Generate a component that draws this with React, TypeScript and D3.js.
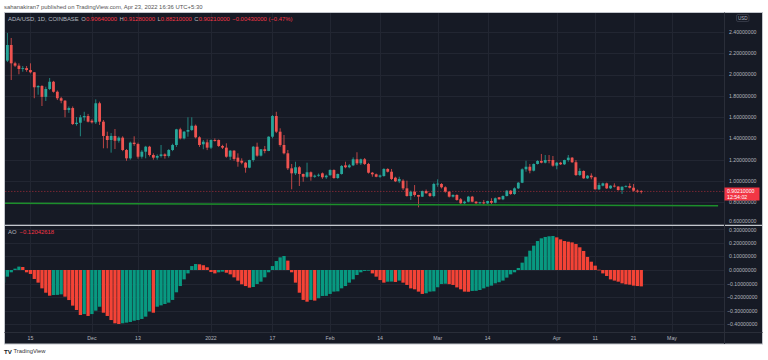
import React from "react";
import * as d3 from "d3";

// ---------- DATA ----------
const START_DATE = "2021-11-08"; // first (partly hidden) daily candle
const opens = [
  2.03, 2.13, 2.277, 2.105, 2.083, 2.052, 2.06, 2.042, 2.021, 1.88, 1.892, 1.79, 1.864, 1.932, 1.838, 1.777, 1.754, 1.667, 1.685, 1.535,
  1.547, 1.598, 1.61, 1.566, 1.551, 1.73, 1.557, 1.423, 1.385, 1.423, 1.378, 1.407, 1.291, 1.213, 1.36, 1.347, 1.228, 1.275, 1.322, 1.244,
  1.219, 1.235, 1.25, 1.235, 1.291, 1.338, 1.485, 1.4, 1.463, 1.479, 1.519, 1.41, 1.345, 1.363, 1.313, 1.385, 1.385, 1.329, 1.313, 1.228,
  1.285, 1.219, 1.19, 1.172, 1.125, 1.197, 1.322, 1.238, 1.298, 1.282, 1.416, 1.61, 1.463, 1.338, 1.26, 1.119, 1.072, 1.129, 1.066, 1.04,
  1.082, 1.04, 1.05, 1.072, 1.035, 1.054, 1.103, 1.028, 1.066, 1.147, 1.129, 1.147, 1.204, 1.166, 1.204, 1.16, 1.078, 1.063, 1.04, 1.047,
  1.113, 1.087, 1.031, 0.997, 1.003, 0.931, 0.859, 0.9, 0.869, 0.853, 0.906, 0.885, 0.859, 0.972, 0.972, 0.941, 0.9, 0.853, 0.869, 0.828,
  0.791, 0.806, 0.853, 0.806, 0.791, 0.8, 0.79, 0.812, 0.796, 0.847, 0.828, 0.859, 0.909, 0.878, 0.931, 0.984, 1.11, 1.134, 1.097, 1.16,
  1.188, 1.172, 1.197, 1.197, 1.144, 1.172, 1.157, 1.197, 1.219, 1.176, 1.056, 1.094, 1.025, 1.05, 1.035, 0.922, 0.956, 0.978, 0.931, 0.956,
  0.948, 0.915, 0.946, 0.953, 0.937, 0.909, 0.9064,
];
const highs = [
  2.15, 2.39, 2.343, 2.12, 2.105, 2.08, 2.08, 2.105, 2.023, 1.9, 1.9, 1.885, 1.967, 1.94, 1.85, 1.79, 1.76, 1.7, 1.7, 1.6,
  1.62, 1.65, 1.63, 1.58, 1.767, 1.745, 1.573, 1.463, 1.45, 1.488, 1.42, 1.42, 1.3, 1.37, 1.42, 1.36, 1.29, 1.33, 1.33, 1.26,
  1.25, 1.338, 1.26, 1.3, 1.35, 1.49, 1.5, 1.47, 1.598, 1.598, 1.53, 1.42, 1.385, 1.39, 1.39, 1.4, 1.39, 1.34, 1.354, 1.29,
  1.29, 1.26, 1.213, 1.18, 1.2, 1.329, 1.36, 1.3, 1.329, 1.42, 1.62, 1.65, 1.495, 1.432, 1.291, 1.16, 1.181, 1.14, 1.07, 1.172,
  1.09, 1.06, 1.07, 1.08, 1.06, 1.11, 1.11, 1.07, 1.15, 1.181, 1.16, 1.222, 1.27, 1.21, 1.216, 1.17, 1.085, 1.07, 1.06, 1.12,
  1.12, 1.113, 1.04, 1.04, 1.016, 1.003, 0.91, 0.962, 0.87, 0.91, 0.92, 0.89, 0.984, 1.016, 0.98, 0.95, 0.905, 0.875, 0.875, 0.84,
  0.815, 0.86, 0.86, 0.81, 0.805, 0.822, 0.815, 0.838, 0.845, 0.85, 0.865, 0.915, 0.915, 0.94, 0.99, 1.119, 1.19, 1.16, 1.165, 1.195,
  1.254, 1.244, 1.244, 1.235, 1.18, 1.18, 1.2, 1.244, 1.225, 1.197, 1.119, 1.1, 1.055, 1.072, 1.04, 0.984, 0.985, 0.985, 0.96, 0.978,
  0.95, 0.95, 0.96, 0.978, 0.972, 0.92, 0.9128,
];
const lows = [
  2.0, 2.117, 1.948, 2.07, 2.002, 2.026, 2.026, 2.011, 1.777, 1.81, 1.704, 1.751, 1.854, 1.83, 1.76, 1.73, 1.598, 1.64, 1.526, 1.52,
  1.42, 1.566, 1.55, 1.54, 1.535, 1.526, 1.307, 1.307, 1.266, 1.3, 1.36, 1.28, 1.19, 1.2, 1.33, 1.21, 1.21, 1.213, 1.23, 1.2,
  1.2, 1.22, 1.21, 1.22, 1.28, 1.32, 1.39, 1.39, 1.416, 1.47, 1.4, 1.32, 1.298, 1.29, 1.3, 1.37, 1.32, 1.3, 1.219, 1.197,
  1.19, 1.134, 1.157, 1.078, 1.12, 1.181, 1.228, 1.23, 1.26, 1.28, 1.4, 1.45, 1.322, 1.25, 1.103, 0.922, 1.056, 0.953, 0.993, 1.03,
  1.003, 1.03, 1.04, 1.02, 1.02, 1.05, 1.02, 1.02, 1.06, 1.12, 1.12, 1.14, 1.15, 1.15, 1.15, 1.07, 1.04, 1.035, 1.03, 1.04,
  1.08, 1.009, 0.99, 0.98, 0.915, 0.853, 0.822, 0.853, 0.753, 0.85, 0.88, 0.85, 0.847, 0.946, 0.93, 0.89, 0.845, 0.845, 0.815, 0.785,
  0.785, 0.8, 0.8, 0.785, 0.787, 0.78, 0.785, 0.784, 0.79, 0.825, 0.82, 0.855, 0.87, 0.87, 0.925, 0.98, 1.087, 1.072, 1.09, 1.155,
  1.166, 1.165, 1.166, 1.134, 1.11, 1.15, 1.15, 1.181, 1.17, 1.047, 1.047, 1.02, 1.02, 1.016, 0.92, 0.915, 0.95, 0.925, 0.925, 0.94,
  0.91, 0.878, 0.94, 0.93, 0.9, 0.89, 0.8821,
];
const closes = [
  2.13, 2.277, 2.105, 2.083, 2.052, 2.06, 2.042, 2.021, 1.88, 1.892, 1.79, 1.864, 1.932, 1.838, 1.777, 1.754, 1.667, 1.685, 1.535, 1.547,
  1.598, 1.61, 1.557, 1.551, 1.73, 1.557, 1.423, 1.385, 1.423, 1.378, 1.407, 1.291, 1.213, 1.36, 1.347, 1.228, 1.275, 1.322, 1.244, 1.219,
  1.235, 1.25, 1.235, 1.291, 1.338, 1.485, 1.4, 1.463, 1.479, 1.519, 1.41, 1.338, 1.369, 1.313, 1.385, 1.376, 1.329, 1.313, 1.228, 1.285,
  1.207, 1.181, 1.172, 1.125, 1.197, 1.322, 1.238, 1.298, 1.282, 1.416, 1.61, 1.463, 1.338, 1.26, 1.119, 1.072, 1.129, 1.066, 1.04, 1.082,
  1.04, 1.05, 1.058, 1.035, 1.05, 1.103, 1.028, 1.066, 1.141, 1.129, 1.147, 1.204, 1.166, 1.204, 1.16, 1.078, 1.063, 1.04, 1.052, 1.113,
  1.087, 1.019, 0.997, 1.019, 0.931, 0.859, 0.9, 0.869, 0.853, 0.906, 0.885, 0.859, 0.972, 0.975, 0.941, 0.9, 0.853, 0.869, 0.822, 0.791,
  0.806, 0.853, 0.806, 0.791, 0.8, 0.79, 0.812, 0.796, 0.838, 0.828, 0.859, 0.909, 0.878, 0.931, 0.984, 1.11, 1.134, 1.097, 1.16, 1.188,
  1.172, 1.197, 1.19, 1.144, 1.172, 1.157, 1.197, 1.219, 1.176, 1.056, 1.094, 1.025, 1.05, 1.035, 0.922, 0.962, 0.978, 0.931, 0.956, 0.948,
  0.915, 0.946, 0.953, 0.937, 0.909, 0.9064, 0.9021,
];
const aoValues = [
  -0.093, -0.049, -0.017, 0.01, 0.025, 0.022, -0.017, -0.029, -0.066, -0.093, -0.135, -0.167, -0.189, -0.184, -0.183, -0.179, -0.196, -0.221, -0.262, -0.294,
  -0.331, -0.324, -0.338, -0.324, -0.299, -0.27, -0.314, -0.338, -0.368, -0.392, -0.397, -0.392, -0.387, -0.382, -0.373, -0.368, -0.36, -0.343, -0.305, -0.314,
  -0.27, -0.26, -0.25, -0.24, -0.22, -0.164, -0.118, -0.069, -0.025, 0.029, 0.044, 0.042, 0.035, 0.02, -0.015, -0.025, -0.017, -0.012, -0.02, -0.032,
  -0.054, -0.078, -0.105, -0.118, -0.13, -0.125, -0.103, -0.086, -0.054, -0.017, 0.029, 0.066, 0.093, 0.103, 0.069, -0.017, -0.093, -0.167, -0.22, -0.233,
  -0.22, -0.225, -0.208, -0.191, -0.19, -0.176, -0.159, -0.157, -0.135, -0.118, -0.093, -0.069, -0.037, -0.017, -0.007, -0.005, -0.025, -0.049, -0.074, -0.093,
  -0.086, -0.085, -0.088, -0.078, -0.093, -0.11, -0.135, -0.142, -0.159, -0.176, -0.171, -0.159, -0.157, -0.127, -0.103, -0.101, -0.104, -0.11, -0.128, -0.142,
  -0.159, -0.16, -0.154, -0.153, -0.147, -0.135, -0.123, -0.115, -0.098, -0.09, -0.078, -0.056, -0.032, -0.017, 0.015, 0.054, 0.098, 0.142, 0.179, 0.213,
  0.233, 0.243, 0.248, 0.25, 0.24, 0.225, 0.213, 0.208, 0.203, 0.191, 0.167, 0.14, 0.096, 0.061, 0.032, 0.002, -0.025, -0.044, -0.069, -0.078,
  -0.086, -0.098, -0.105, -0.108, -0.115, -0.118, -0.12042618,
];
const priceTicks = [0.6, 0.8, 1.0, 1.2, 1.4, 1.6, 1.8, 2.0, 2.2, 2.4];
const aoTicks = [-0.4, -0.3, -0.2, -0.1, 0.0, 0.1, 0.2, 0.3];
const timeTickDates = ["2021-11-15", "2021-12-01", "2021-12-13", "2022-01-01", "2022-01-17", "2022-02-01", "2022-02-14", "2022-03-01", "2022-03-14", "2022-04-01", "2022-04-11", "2022-04-21", "2022-05-01"];
const timeTickLabels = ["15", "Dec", "13", "2022", "17", "Feb", "14", "Mar", "14", "Apr", "11", "21", "May"];
const supportDates = ["2021-11-08", "2022-05-13"];
const supportPrices = [0.79, 0.768];
const lastPrice = 0.9021;
const legendOHLC = ["0.90640000", "0.91280000", "0.88210000", "0.90210000"];
const legendChange = "\u22120.00430000 (\u22120.47%)";
const aoLegendValue = "\u22120.12042618";
const countdown = "12:54:02";

// ---------- STYLE ----------
const BG = "#161a25";
const GRID = "#222632";
const AXIS_TXT = "#b2b5be";
const UP = "#26a69a";
const DOWN = "#ef5350";
const AO_UP = "#089981";
const AO_DOWN = "#f44336";
const FONT = "'Liberation Sans', Arial, sans-serif";

const W = 768, H = 360;
const PANEL = { x0: 4.5, x1: 762.5, y0: 12.5, y1: 344 };
const AXIS_X = 724;
const MAIN = { y0: 13, y1: 225 };
const AO = { y0: 226, y1: 332.5 };

const fmt = (v: number) => (v < 0 ? "\u2212" : "") + Math.abs(v).toFixed(8);

export default function App() {
  const start = new Date(START_DATE + "T00:00:00Z");
  const dates = opens.map((_, i) => d3.utcDay.offset(start, i));
  const x = d3.scaleUtc()
    .domain([new Date("2022-01-01T00:00:00Z"), new Date("2022-05-01T00:00:00Z")])
    .range([211, 672]);
  const y = d3.scaleLinear().domain([0.6, 2.4]).range([223.6, 31.9]);
  const ya = d3.scaleLinear().domain([-0.4, 0.3]).range([324.4, 229.2]);

  const bw = 2.8;
  const aw = 3.3;
  const supportLineGen = d3.line<number>()
    .x((_, i) => x(new Date(supportDates[i] + "T00:00:00Z")))
    .y((p) => y(p));

  return (
    <svg width={W} height={H} style={{ position: "absolute", left: 0, top: 0, background: "#ffffff" }} fontFamily={FONT}>
      <defs>
        <clipPath id="mainClip"><rect x={5} y={MAIN.y0} width={AXIS_X - 5} height={MAIN.y1 - MAIN.y0} /></clipPath>
        <clipPath id="aoClip"><rect x={5} y={AO.y0} width={AXIS_X - 5} height={AO.y1 - AO.y0} /></clipPath>
      </defs>
      <text x={4} y={8.8} fontSize={5.9} fill="#555">
        sahanakiran7 published on TradingView.com, Apr 23, 2022 16:36 UTC+5:30
      </text>
      <rect x={PANEL.x0} y={PANEL.y0} width={PANEL.x1 - PANEL.x0} height={PANEL.y1 - PANEL.y0} fill={BG} stroke="#c3c6cc" strokeWidth={1} />

      {/* grids */}
      {timeTickDates.map((d, i) => {
        const xx = Math.round(x(new Date(d + "T00:00:00Z"))) + 0.5;
        return <line key={"vg" + i} x1={xx} x2={xx} y1={MAIN.y0} y2={AO.y1} stroke={GRID} strokeWidth={1} />;
      })}
      {priceTicks.map((t) => (
        <line key={"pg" + t} x1={5} x2={AXIS_X} y1={Math.round(y(t)) + 0.5} y2={Math.round(y(t)) + 0.5} stroke={GRID} />
      ))}
      {aoTicks.map((t) => (
        <line key={"ag" + t} x1={5} x2={AXIS_X} y1={Math.round(ya(t)) + 0.5} y2={Math.round(ya(t)) + 0.5} stroke={GRID} />
      ))}

      {/* candles */}
      <g clipPath="url(#mainClip)">
        {dates.map((d, i) => {
          const o = opens[i], c = closes[i];
          const col = c >= o ? UP : DOWN;
          const cx = x(d);
          const top = y(Math.max(o, c));
          const bot = y(Math.min(o, c));
          return (
            <g key={"c" + i}>
              <line x1={cx} x2={cx} y1={y(highs[i])} y2={y(lows[i])} stroke={col} strokeWidth={0.9} opacity={0.85} />
              <rect x={cx - bw / 2} y={top} width={bw} height={Math.max(0.8, bot - top)} fill={col} />
            </g>
          );
        })}
        <path d={supportLineGen(supportPrices) || ""} stroke="#1c8f2b" strokeWidth={1.5} fill="none" />
        <line x1={5} x2={AXIS_X} y1={y(lastPrice)} y2={y(lastPrice)} stroke="#f23645" strokeOpacity={0.55} strokeWidth={0.8} strokeDasharray="1.5,1.5" />
      </g>

      {/* AO histogram */}
      <g clipPath="url(#aoClip)">
        {dates.map((d, i) => {
          const v = aoValues[i];
          const prev = i > 0 ? aoValues[i - 1] : -1;
          const col = v >= prev ? AO_UP : AO_DOWN;
          const y0 = ya(0), y1 = ya(v);
          return (
            <rect key={"a" + i} x={x(d) - aw / 2} y={Math.min(y0, y1)} width={aw} height={Math.max(0.6, Math.abs(y1 - y0))} fill={col} />
          );
        })}
      </g>

      {/* separators */}
      <line x1={PANEL.x0} x2={PANEL.x1} y1={225.3} y2={225.3} stroke="#c3c6cc" strokeWidth={1.2} />
      <line x1={PANEL.x0} x2={PANEL.x1} y1={332.5} y2={332.5} stroke="#2a2e39" strokeWidth={1} />
      <line x1={AXIS_X + 0.5} x2={AXIS_X + 0.5} y1={PANEL.y0} y2={PANEL.y1} stroke="#2a2e39" strokeWidth={1} />

      {/* price axis */}
      <rect x={736.5} y={14.5} width={12.5} height={7} rx={1.5} fill="none" stroke="#4a4e5a" strokeWidth={0.6} />
      <text x={742.75} y={19.8} fontSize={4.6} fill={AXIS_TXT} textAnchor="middle">USD</text>
      {priceTicks.map((t) => (
        <text key={"pt" + t} x={729} y={Math.min(y(t), 221.5) + 1.9} fontSize={5.2} fill={AXIS_TXT}>{fmt(t)}</text>
      ))}
      {aoTicks.map((t) => (
        <text key={"at" + t} x={t < 0 ? 727 : 729} y={Math.max(ya(t), 230.5) + 1.9} fontSize={5.2} fill={AXIS_TXT}>{fmt(t)}</text>
      ))}
      <rect x={724.5} y={187.5} width={35} height={13} fill="#f23645" />
      <text x={727} y={193.1} fontSize={5.2} fill="#ffffff">{fmt(lastPrice)}</text>
      <text x={727} y={199.1} fontSize={5.2} fill="#ffffff">{countdown}</text>

      {/* time axis */}
      {timeTickDates.map((d, i) => (
        <text key={"tt" + i} x={x(new Date(d + "T00:00:00Z"))} y={340.2} fontSize={5.2} fill={AXIS_TXT} textAnchor="middle">{timeTickLabels[i]}</text>
      ))}

      {/* legends */}
      <text x={8} y={20.5} fontSize={5.9} fill={AXIS_TXT}>
        <tspan>ADA/USD, 1D, COINBASE </tspan>
        <tspan dx={1}>O</tspan><tspan fill="#f23645">{legendOHLC[0]}</tspan>
        <tspan dx={2.5}>H</tspan><tspan fill="#f23645">{legendOHLC[1]}</tspan>
        <tspan dx={2.5}>L</tspan><tspan fill="#f23645">{legendOHLC[2]}</tspan>
        <tspan dx={2.5}>C</tspan><tspan fill="#f23645">{legendOHLC[3]}</tspan>
        <tspan dx={2.5} fill="#f23645">{legendChange}</tspan>
      </text>
      <text x={8} y={234.4} fontSize={5.9} fill={AXIS_TXT}>
        <tspan>AO</tspan><tspan dx={3} fill="#f23645">{aoLegendValue}</tspan>
      </text>

      {/* footer */}
      <text x={4} y={353.5} fontSize={6.2} fontWeight="bold" fill="#131722">TV</text>
      <text x={13.5} y={353.3} fontSize={5.8} fill="#333">TradingView</text>
    </svg>
  );
}
